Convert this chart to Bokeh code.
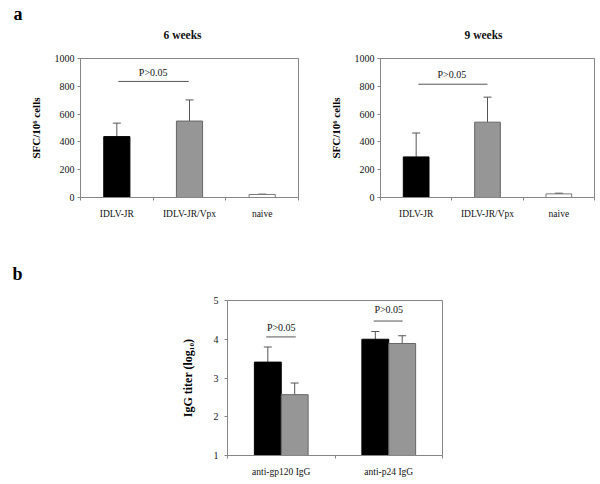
from bokeh.plotting import figure
from bokeh.models import (Range1d, FixedTicker, Whisker, TeeHead, ColumnDataSource, Title)
from bokeh.layouts import column, row
from bokeh.embed import file_html
from bokeh.resources import INLINE
from bokeh.core.properties import value

# ---------------- data ----------------
groups_a = ["IDLV-JR", "IDLV-JR/Vpx", "naive"]
weeks6_mean = [438, 550, 22]
weeks6_upper = [535, 702, 24]
weeks9_mean = [292, 542, 26]
weeks9_upper = [464, 722, 31]
colors_a = ["#000000", "#969696", "#ffffff"]
outline_a = ["#000000", "#666666", "#777777"]

groups_b = ["anti-gp120 IgG", "anti-p24 IgG"]
idlv_jr_titer = [3.41, 4.00]
idlv_jr_titer_upper = [3.80, 4.20]
idlv_vpx_titer = [2.57, 3.89]
idlv_vpx_titer_upper = [2.87, 4.09]

p_text = "P>0.05"

FONT = "Liberation Serif"
AX = "#868686"


def style(p, cats, ylab, yticks):
    p.xgrid.visible = False
    p.ygrid.visible = False
    p.outline_line_color = AX
    p.outline_line_width = 1
    p.background_fill_color = "white"
    p.border_fill_color = "white"
    n = len(cats)
    xa = p.xaxis[0]
    xa.ticker = FixedTicker(ticks=[i + 0.5 for i in range(n)], minor_ticks=list(range(n + 1)))
    xa.major_label_overrides = {i + 0.5: c for i, c in enumerate(cats)}
    xa.major_tick_out = 0
    xa.major_tick_in = 0
    xa.minor_tick_out = 3
    xa.minor_tick_in = 0
    xa.minor_tick_line_color = AX
    xa.axis_line_color = AX
    xa.major_label_standoff = 8
    xa.major_label_text_font = FONT
    xa.major_label_text_font_size = "9.5px"
    xa.major_label_text_color = "#111111"
    ya = p.yaxis[0]
    ya.ticker = FixedTicker(ticks=yticks)
    ya.minor_tick_line_color = None
    ya.major_tick_out = 3
    ya.major_tick_in = 0
    ya.major_tick_line_color = AX
    ya.axis_line_color = AX
    ya.major_label_standoff = 3
    ya.major_label_text_font = FONT
    ya.major_label_text_font_size = "10px"
    ya.major_label_text_color = "#111111"
    ya.axis_label = ylab
    ya.axis_label_text_font = FONT
    ya.axis_label_text_font_style = "bold"
    ya.axis_label_text_font_size = "11px"
    ya.axis_label_text_color = "#000000"
    ya.axis_label_standoff = 10


def letter(p, text, offset, standoff):
    p.title.text = text
    p.title.align = "left"
    p.title.offset = offset
    p.title.standoff = standoff
    p.title.text_font = FONT
    p.title.text_font_style = "bold"
    p.title.text_font_size = "18px"
    p.title.text_color = "#000000"


def panel_a(mean, upper, title, left, fw, line_y, text_y, line_x, toff):
    p = figure(width=300, height=230, output_backend="svg", toolbar_location=None,
               x_range=Range1d(0, 3), y_range=Range1d(0, 1000),
               min_border_left=left, min_border_right=300 - left - fw,
               min_border_top=58, min_border_bottom=33)
    style(p, groups_a, "SFC/10\u2076 cells", [0, 200, 400, 600, 800, 1000])
    xs = [i + 0.5 for i in range(len(groups_a))]
    src = ColumnDataSource(dict(x=xs, top=mean, up=upper, fill=colors_a, line=outline_a))
    p.vbar(x="x", top="top", bottom=0, width=0.36, fill_color="fill", line_color="line",
           line_width=1, source=src)
    p.add_layout(Whisker(base="x", lower="top", upper="up", source=src, dimension="height",
                         line_color="#555555", line_width=1,
                         upper_head=TeeHead(size=8, line_color="#555555", line_width=1),
                         lower_head=None))
    p.segment(x0=[line_x[0]], x1=[line_x[1]], y0=[line_y], y1=[line_y],
              line_color="#555555", line_width=1)
    p.text(x=[1.0], y=[text_y], text=[p_text], text_font=value(FONT), text_font_size="10px",
           text_align="center", text_baseline="middle", text_color="#111111")
    p.add_layout(Title(text=title, align="left", offset=toff, standoff=36,
                       text_font=FONT, text_font_style="bold", text_font_size="11.5px",
                       text_color="#111111"), "above")
    return p


p1 = panel_a(weeks6_mean, weeks6_upper, "6 weeks", 80, 218, 835, 899, (0.52, 1.49), 83)
letter(p1, "a", -67, -30)
p2 = panel_a(weeks9_mean, weeks9_upper, "9 weeks", 80, 214, 815, 886, (0.53, 1.50), 84)
p2.title.text = ""

# panel b
p3 = figure(width=600, height=249, output_backend="svg", toolbar_location=None,
            x_range=Range1d(0, 2), y_range=Range1d(1, 5),
            min_border_left=227, min_border_right=158,
            min_border_top=70, min_border_bottom=22)
style(p3, groups_b, "IgG titer (log\u2081\u2080)", [1, 2, 3, 4, 5])
p3.yaxis[0].major_label_standoff = 6
p3.yaxis[0].axis_label_standoff = 16
p3.yaxis[0].axis_label_text_font_size = "12px"
xb = [i + 0.5 for i in range(len(groups_b))]
s1 = ColumnDataSource(dict(x=[v - 0.125 for v in xb], top=idlv_jr_titer, up=idlv_jr_titer_upper))
s2 = ColumnDataSource(dict(x=[v + 0.125 for v in xb], top=idlv_vpx_titer, up=idlv_vpx_titer_upper))
p3.vbar(x="x", top="top", bottom=1, width=0.25, fill_color="#000000", line_color="#000000", source=s1)
p3.vbar(x="x", top="top", bottom=1, width=0.25, fill_color="#969696", line_color="#666666", source=s2)
for s in (s1, s2):
    p3.add_layout(Whisker(base="x", lower="top", upper="up", source=s, dimension="height",
                          line_color="#555555", line_width=1,
                          upper_head=TeeHead(size=8, line_color="#555555", line_width=1),
                          lower_head=None))
p3.segment(x0=[0.36, 1.36], x1=[0.635, 1.63], y0=[4.06, 4.47], y1=[4.06, 4.47],
           line_color="#555555", line_width=1)
p3.text(x=[0.5, 1.5], y=[4.30, 4.76], text=[p_text, p_text], text_font=value(FONT),
        text_font_size="10px", text_align="center", text_baseline="middle", text_color="#111111")
letter(p3, "b", -215, 34)

layout = column(row(p1, p2), p3)
open("out.html", "w").write(file_html(layout, INLINE))
